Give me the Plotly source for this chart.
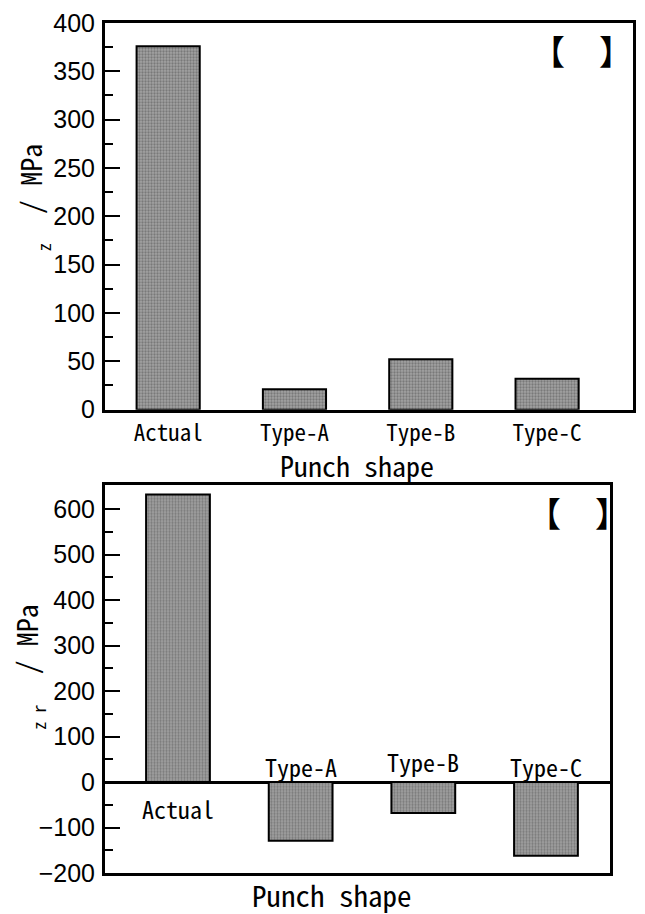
import plotly.graph_objects as go

categories = ["Actual", "Type-A", "Type-B", "Type-C"]
sigma_z = [376, 21, 52, 32]
sigma_zr = [632, -129, -68, -162]

W, H = 645, 914
ML, MR, MT, MB = 105, 9, 20, 41
PW, PH = W - ML - MR, H - MT - MB

def px(x):
    return (x - ML) / PW

def py(y):
    return (H - MB - y) / PH

MONO = "Noto Sans Mono CJK JP, Noto Sans CJK JP, Liberation Mono, monospace"
SANS = "Liberation Sans, Arial, sans-serif"
CJK = "Noto Sans CJK JP"

pattern = dict(shape=".", fgcolor="#505050", bgcolor="#a2a2a2", size=3, solidity=0.45)

fig = go.Figure()
fig.add_trace(go.Bar(x=categories, y=sigma_z, width=0.5, xaxis="x", yaxis="y",
                     marker=dict(color="#888888", pattern=pattern,
                                 line=dict(color="black", width=2)),
                     showlegend=False))
fig.add_trace(go.Bar(x=categories, y=sigma_zr, width=0.52, xaxis="x2", yaxis="y2",
                     marker=dict(color="#888888", pattern=pattern,
                                 line=dict(color="black", width=2)),
                     showlegend=False))

axis_common = dict(showline=True, linecolor="black", linewidth=3, mirror=True,
                   showgrid=False)

fig.update_layout(
    width=W, height=H,
    margin=dict(l=ML, r=MR, t=MT, b=MB),
    plot_bgcolor="white", paper_bgcolor="white",
    xaxis=dict(domain=[0, 1], anchor="y", type="category", range=[-0.5, 3.68],
               ticks="", tickfont=dict(family=MONO, size=23, color="black"),
               ticklabelstandoff=1, **axis_common),
    yaxis=dict(domain=[py(408), 1], anchor="x", range=[0, 400], tick0=0, dtick=50,
               ticks="inside", ticklen=15, tickwidth=2, tickcolor="black",
               minor=dict(dtick=25, ticks="inside", ticklen=8, tickwidth=2, tickcolor="black"),
               tickfont=dict(family=SANS, size=25, color="black"),
               ticklabelstandoff=2, zeroline=False, **axis_common),
    xaxis2=dict(domain=[0, px(613)], anchor="y2", type="category", range=[-0.595, 3.523],
                ticks="", showticklabels=False, **axis_common),
    yaxis2=dict(domain=[0, py(484)], anchor="x2", range=[-200, 652], tick0=0, dtick=100,
                ticks="inside", ticklen=15, tickwidth=2, tickcolor="black",
                minor=dict(dtick=50, ticks="inside", ticklen=8, tickwidth=2, tickcolor="black"),
                tickfont=dict(family=SANS, size=25, color="black"),
                ticklabelstandoff=2,
                zeroline=True, zerolinecolor="black", zerolinewidth=3, **axis_common),
)

ann = []

def add(x, y, text, size, family=MONO, angle=0, xref="paper"):
    ann.append(dict(x=x, y=py(y), xref=xref, yref="paper", text=text, textangle=angle,
                    showarrow=False, xanchor="center", yanchor="middle",
                    font=dict(family=family, size=size, color="black")))

# y-axis titles (main part and subscript)
add(px(30), 176, "/\u00a0MPa", 28, angle=-90)
add(px(43), 245, "z", 17, angle=-90)
add(px(25), 638, "/\u00a0MPa", 28, angle=-90)
add(px(38), 716, "z\u00a0r", 17, angle=-90)
# x-axis titles
add(px(358), 464, "Punch shape", 28)
add(px(333), 894, "Punch shape", 29)
# bracket marks
add(px(585), 48, "【\u3000】", 34, family=CJK)
add(px(581), 511, "【\u3000】", 34, family=CJK)
# bottom category labels
label_y = [808, 766, 761, 766]
for c, yy in zip(categories, label_y):
    add(c, yy, c, 24, xref="x2")

fig.update_layout(annotations=ann)
fig.write_html("out.html", post_script="document.body.style.margin='0';",
               config={"displayModeBar": False})
